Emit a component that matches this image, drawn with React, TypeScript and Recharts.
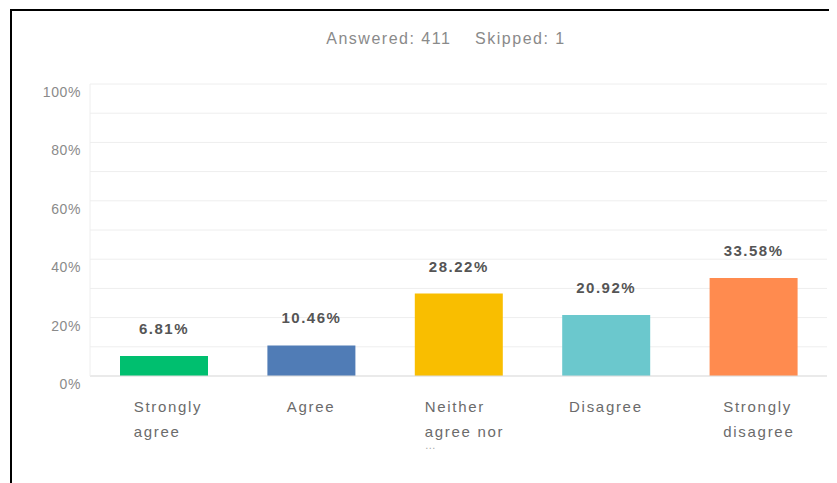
import React from "react";
import { BarChart, Bar, XAxis, YAxis, CartesianGrid, LabelList, Cell } from "recharts";

const categories = ["Strongly agree", "Agree", "Neither agree nor disagree", "Disagree", "Strongly disagree"];
const values = [6.81, 10.46, 28.22, 20.92, 33.58];
const colors = ["#00bf6f", "#507cb6", "#f9be00", "#6bc8cd", "#ff8b4f"];
const yTicks = [0, 10, 20, 30, 40, 50, 60, 70, 80, 90, 100];
const answered = 411;
const skipped = 1;

const data = categories.map((c, i) => ({ name: c, value: values[i] }));

const FONT = "'Liberation Sans', Arial, sans-serif";

function wrap(label: string, max: number): string[] {
  const words = label.split(" ");
  const lines: string[] = [];
  let cur = "";
  for (const w of words) {
    const next = cur ? cur + " " + w : w;
    if (next.length > max && cur) {
      lines.push(cur);
      cur = w;
    } else cur = next;
  }
  if (cur) lines.push(cur);
  return lines;
}

const XTick = (props: any) => {
  const { x, y, payload } = props;
  let lines = wrap(String(payload.value), 9);
  if (lines.length > 2) lines = [lines[0], lines[1], "…"];
  const longest = Math.max(...lines.map((l) => l.length));
  const half = (longest * 7.5) / 2;
  const single = lines.length === 1;
  return (
    <g>
      {lines.map((l, i) => (
        <text
          key={i}
          x={single ? x : x - half}
          y={y + 36 + (i < 2 ? i * 25 : 37)}
          textAnchor={single ? "middle" : "start"}
          fill={i < 2 ? "#6b6b6b" : "#aaaaaa"}
          fontSize={i < 2 ? 15 : 11}
          letterSpacing={1.7}
          fontFamily={FONT}
        >
          {l}
        </text>
      ))}
    </g>
  );
};

const YTick = (props: any) => {
  const { x, y, payload } = props;
  if (payload.value % 20 !== 0) return null;
  return (
    <text x={x} y={y + 13} textAnchor="end" fill="#8a8a8a" fontSize={14} letterSpacing={0.6} fontFamily={FONT}>
      {payload.value}%
    </text>
  );
};

export default function App() {
  return (
    <div style={{ position: "relative", width: 829, height: 475, background: "#fff" }}>
      <div
        style={{
          position: "absolute",
          left: 2,
          top: 1,
          right: -10,
          bottom: -10,
          borderTop: "2px solid #000",
          borderLeft: "2px solid #000",
        }}
      />
      <div
        style={{
          position: "absolute",
          left: 0,
          width: 876,
          top: 22,
          textAlign: "center",
          fontFamily: FONT,
          fontSize: 16,
          letterSpacing: 1.5,
          color: "#8a8a8a",
          whiteSpace: "pre",
        }}
      >
        {`Answered: ${answered}    Skipped: ${skipped}`}
      </div>
      <div style={{ position: "absolute", left: 0, top: 0 }}>
        <BarChart
          width={829}
          height={475}
          data={data}
          margin={{ top: 76, right: 10, left: 0, bottom: 47 }}
        >
          <CartesianGrid vertical={false} stroke="#eeeeee" />
          <XAxis
            dataKey="name"
            axisLine={{ stroke: "#dddddd" }}
            tickLine={false}
            tickSize={0}
            tickMargin={0}
            height={60}
            interval={0}
            tick={<XTick />}
          />
          <YAxis
            width={82}
            domain={[0, 100]}
            ticks={yTicks}
            axisLine={{ stroke: "#eeeeee" }}
            tickLine={false}
            tickSize={0}
            tickMargin={9}
            tick={<YTick />}
          />
          <Bar dataKey="value" barSize={88} isAnimationActive={false}>
            {data.map((d, i) => (
              <Cell key={d.name} fill={colors[i]} />
            ))}
            <LabelList
              dataKey="value"
              position="top"
              offset={22}
              formatter={(v: any) => `${Number(v).toFixed(2)}%`}
              style={{ fill: "#555", fontSize: 15, fontWeight: 600, letterSpacing: 1.5, fontFamily: FONT }}
            />
          </Bar>
        </BarChart>
      </div>
    </div>
  );
}
